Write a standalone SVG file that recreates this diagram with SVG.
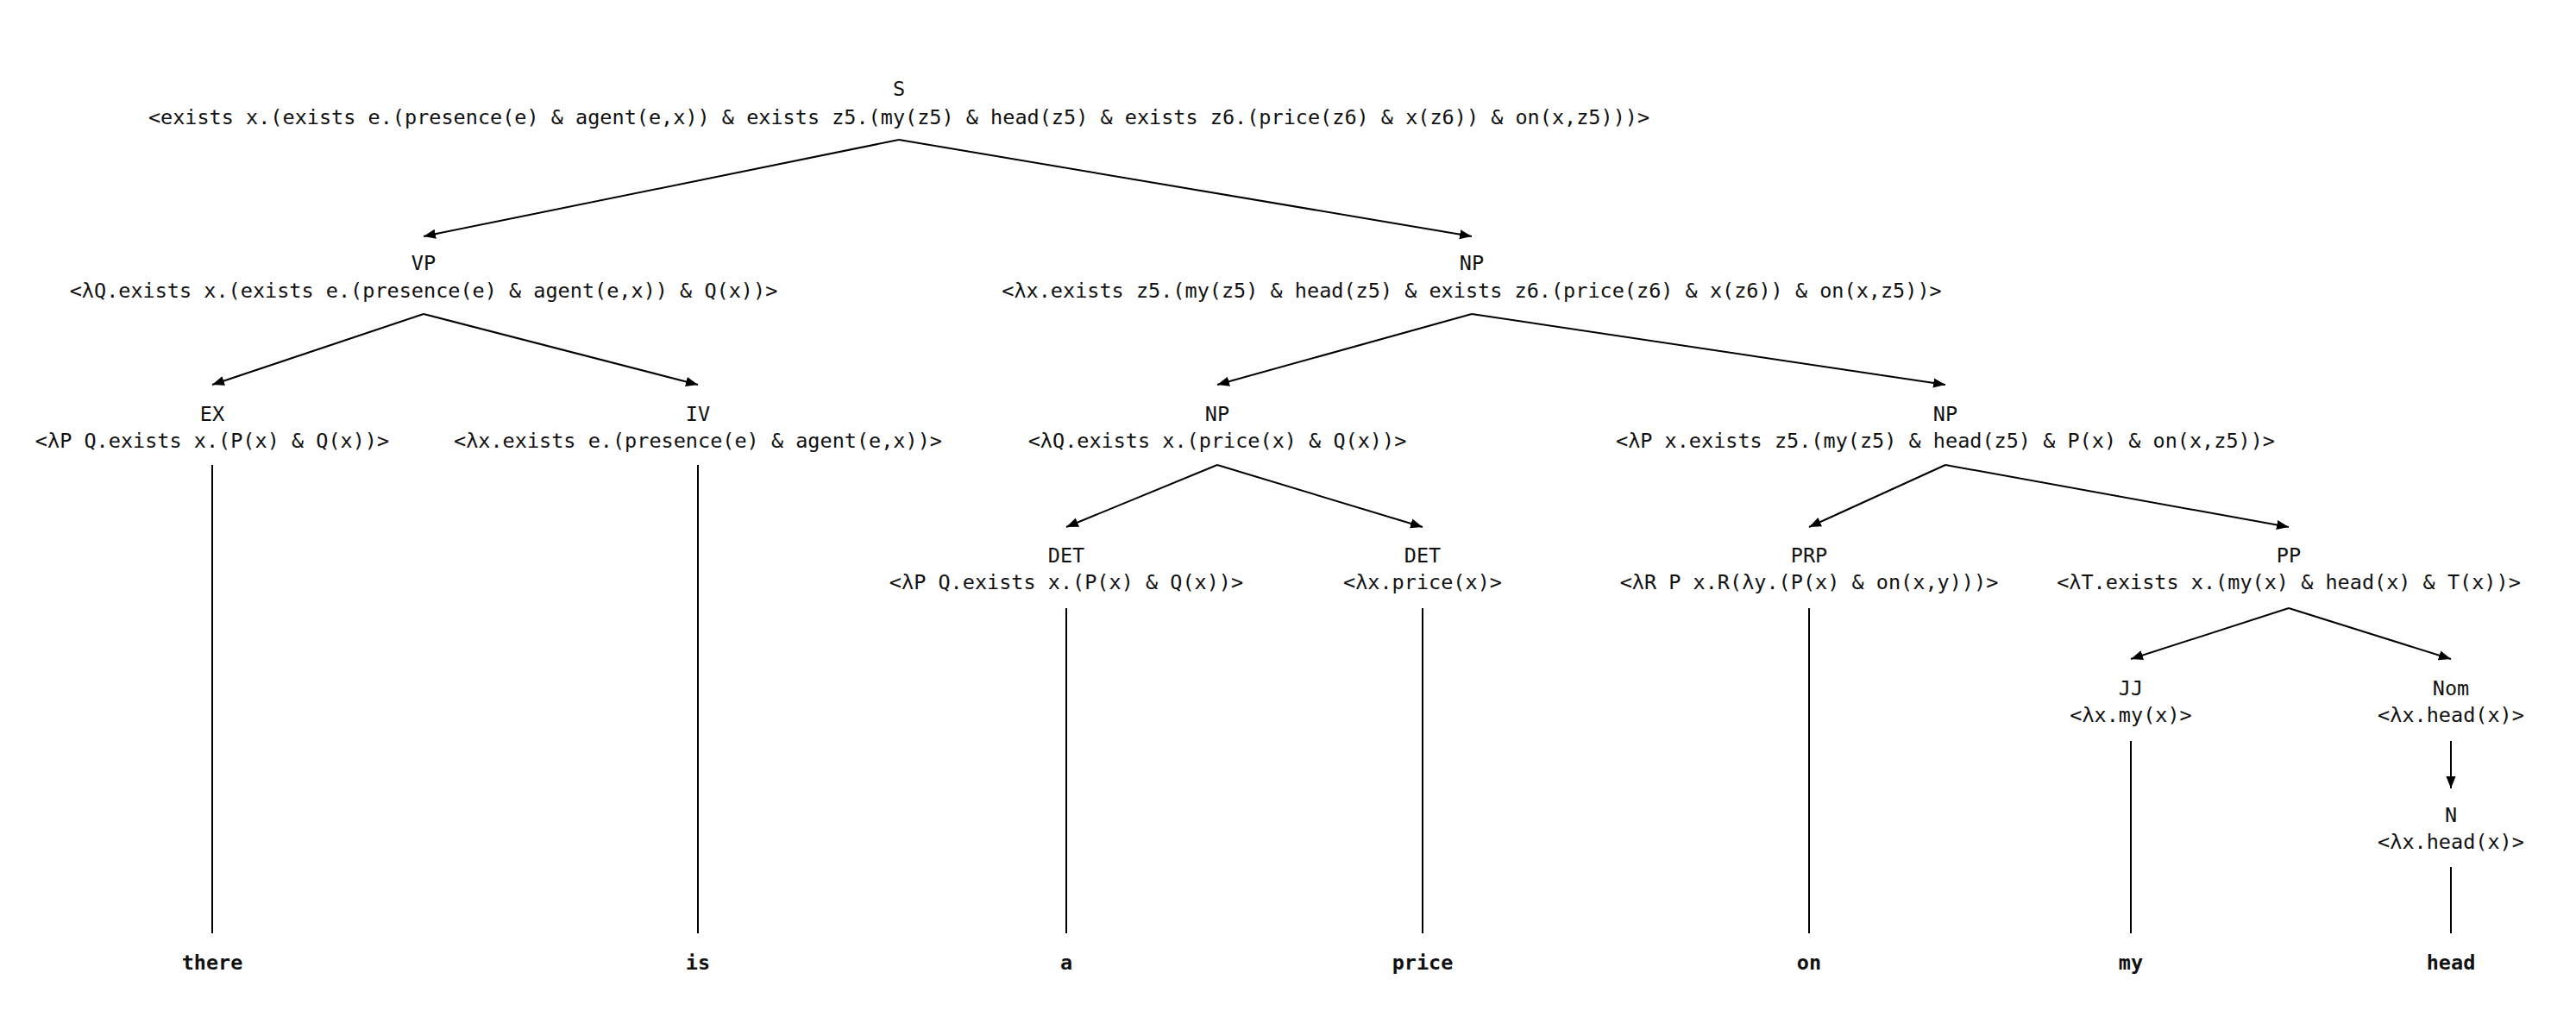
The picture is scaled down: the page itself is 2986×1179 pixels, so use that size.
<svg xmlns="http://www.w3.org/2000/svg" width="2986" height="1179" viewBox="0 0 2986 1179">
  <style>
    text { font-family: "DejaVu Sans Mono", "Liberation Mono", monospace; font-size: 23.5px; fill: #111; text-anchor: middle; }
    .leaf { font-weight: bold; }
    .edge { stroke: #000; stroke-width: 2; fill: none; }
    .arr { marker-end: url(#head); }
  </style>
  <defs>
    <marker id="head" viewBox="0 0 10 10" refX="10" refY="5" markerWidth="7" markerHeight="7" markerUnits="strokeWidth" orient="auto">
      <path d="M0,1 L10,5 L0,9 Z" fill="#000"/>
    </marker>
  </defs>
  <rect width="2986" height="1179" fill="#fff"/>

  <g id="connectors">
    <line class="edge arr" x1="1042" y1="162" x2="491" y2="274"/>
    <line class="edge arr" x1="1042" y1="162" x2="1706" y2="274"/>
    <line class="edge arr" x1="491" y1="364" x2="246" y2="446"/>
    <line class="edge arr" x1="491" y1="364" x2="809" y2="446"/>
    <line class="edge arr" x1="1706" y1="364" x2="1411" y2="446"/>
    <line class="edge arr" x1="1706" y1="364" x2="2255" y2="446"/>
    <line class="edge arr" x1="1411" y1="539" x2="1236" y2="611"/>
    <line class="edge arr" x1="1411" y1="539" x2="1649" y2="611"/>
    <line class="edge arr" x1="2255" y1="539" x2="2097" y2="611"/>
    <line class="edge arr" x1="2255" y1="539" x2="2653" y2="611"/>
    <line class="edge arr" x1="2653" y1="705" x2="2470" y2="764"/>
    <line class="edge arr" x1="2653" y1="705" x2="2841" y2="764"/>
    <line class="edge arr" x1="2841" y1="859" x2="2841" y2="914"/>
    <line class="edge" x1="246" y1="539" x2="246" y2="1082"/>
    <line class="edge" x1="809" y1="539" x2="809" y2="1082"/>
    <line class="edge" x1="1236" y1="705" x2="1236" y2="1082"/>
    <line class="edge" x1="1649" y1="705" x2="1649" y2="1082"/>
    <line class="edge" x1="2097" y1="705" x2="2097" y2="1082"/>
    <line class="edge" x1="2470" y1="859" x2="2470" y2="1082"/>
    <line class="edge" x1="2841" y1="1005" x2="2841" y2="1082"/>
  </g>

  <g id="node-S">
    <text x="1042" y="111">S</text>
    <text x="1042" y="144">&lt;exists x.(exists e.(presence(e) &amp; agent(e,x)) &amp; exists z5.(my(z5) &amp; head(z5) &amp; exists z6.(price(z6) &amp; x(z6)) &amp; on(x,z5)))&gt;</text>
  </g>
  <g id="node-VP">
    <text x="491" y="313">VP</text>
    <text x="491" y="345">&lt;λQ.exists x.(exists e.(presence(e) &amp; agent(e,x)) &amp; Q(x))&gt;</text>
  </g>
  <g id="node-NP1">
    <text x="1706" y="313">NP</text>
    <text x="1706" y="345">&lt;λx.exists z5.(my(z5) &amp; head(z5) &amp; exists z6.(price(z6) &amp; x(z6)) &amp; on(x,z5))&gt;</text>
  </g>
  <g id="node-EX">
    <text x="246" y="488">EX</text>
    <text x="246" y="519">&lt;λP Q.exists x.(P(x) &amp; Q(x))&gt;</text>
  </g>
  <g id="node-IV">
    <text x="809" y="488">IV</text>
    <text x="809" y="519">&lt;λx.exists e.(presence(e) &amp; agent(e,x))&gt;</text>
  </g>
  <g id="node-NP2">
    <text x="1411" y="488">NP</text>
    <text x="1411" y="519">&lt;λQ.exists x.(price(x) &amp; Q(x))&gt;</text>
  </g>
  <g id="node-NP3">
    <text x="2255" y="488">NP</text>
    <text x="2255" y="519">&lt;λP x.exists z5.(my(z5) &amp; head(z5) &amp; P(x) &amp; on(x,z5))&gt;</text>
  </g>
  <g id="node-DET1">
    <text x="1236" y="652">DET</text>
    <text x="1236" y="683">&lt;λP Q.exists x.(P(x) &amp; Q(x))&gt;</text>
  </g>
  <g id="node-DET2">
    <text x="1649" y="652">DET</text>
    <text x="1649" y="683">&lt;λx.price(x)&gt;</text>
  </g>
  <g id="node-PRP">
    <text x="2097" y="652">PRP</text>
    <text x="2097" y="683">&lt;λR P x.R(λy.(P(x) &amp; on(x,y)))&gt;</text>
  </g>
  <g id="node-PP">
    <text x="2653" y="652">PP</text>
    <text x="2653" y="683">&lt;λT.exists x.(my(x) &amp; head(x) &amp; T(x))&gt;</text>
  </g>
  <g id="node-JJ">
    <text x="2470" y="806">JJ</text>
    <text x="2470" y="837">&lt;λx.my(x)&gt;</text>
  </g>
  <g id="node-Nom">
    <text x="2841" y="806">Nom</text>
    <text x="2841" y="837">&lt;λx.head(x)&gt;</text>
  </g>
  <g id="node-N">
    <text x="2841" y="953">N</text>
    <text x="2841" y="984">&lt;λx.head(x)&gt;</text>
  </g>

  <g id="leaves">
    <text class="leaf" x="246" y="1124">there</text>
    <text class="leaf" x="809" y="1124">is</text>
    <text class="leaf" x="1236" y="1124">a</text>
    <text class="leaf" x="1649" y="1124">price</text>
    <text class="leaf" x="2097" y="1124">on</text>
    <text class="leaf" x="2470" y="1124">my</text>
    <text class="leaf" x="2841" y="1124">head</text>
  </g>
</svg>
